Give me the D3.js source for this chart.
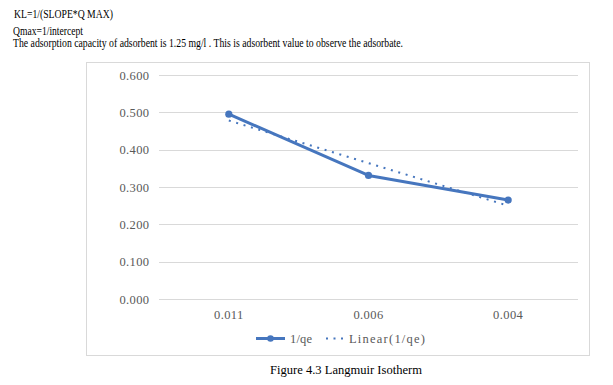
<!DOCTYPE html>
<html>
<head>
<meta charset="utf-8">
<script src="https://cdn.jsdelivr.net/npm/d3@7"></script>
<style>
  body { margin: 0; background: #fff; }
</style>
</head>
<body>
<svg id="chart" width="613" height="385" font-family="Liberation Serif, Times New Roman, serif"></svg>
<script>
// data
const categories = ['0.011', '0.006', '0.004'];
const values = [0.495, 0.331, 0.265];
const trendValues = [0.478, 0.364, 0.25]; // Excel linear trendline
const yTicks = [0, 0.1, 0.2, 0.3, 0.4, 0.5, 0.6];
const noteLines = [
  'KL=1/(SLOPE*Q MAX)',
  'Qmax=1/intercept',
  'The adsorption capacity of adsorbent is 1.25 mg/l . This is adsorbent value to observe the adsorbate.',
];
const captionText = 'Figure 4.3 Langmuir Isotherm';
const legendLabels = ['1/qe', 'Linear(1/qe)'];

const blue = '#4676be';
const gridColor = '#d9d9d9';
const labelColor = '#595959';

const svg = d3.select('#chart');

// text above the chart
const noteLayout = [
  { x: 14, y: 18, len: 99 },
  { x: 13, y: 34.5, len: 70 },
  { x: 13, y: 46.5, len: 390 },
];
svg.selectAll('.note')
  .data(noteLines)
  .enter()
  .append('text')
  .attr('class', 'note')
  .attr('x', (d, i) => noteLayout[i].x)
  .attr('y', (d, i) => noteLayout[i].y)
  .attr('textLength', (d, i) => noteLayout[i].len)
  .attr('lengthAdjust', 'spacingAndGlyphs')
  .attr('font-size', 11.5)
  .attr('fill', '#000')
  .text((d) => d);

// chart frame
svg.append('rect')
  .attr('x', 86.5)
  .attr('y', 62.5)
  .attr('width', 503)
  .attr('height', 293)
  .attr('fill', '#fff')
  .attr('stroke', gridColor)
  .attr('stroke-width', 1);

const x = d3.scaleBand().domain(categories).range([159, 578]).padding(0);
const y = d3.scaleLinear().domain([0, 0.6]).range([299, 75]);
const cx = (d) => x(d) + x.bandwidth() / 2;

// grid lines
svg.append('g')
  .selectAll('line')
  .data(yTicks)
  .enter()
  .append('line')
  .attr('x1', 159)
  .attr('x2', 578)
  .attr('y1', (d) => Math.round(y(d)) + 0.5)
  .attr('y2', (d) => Math.round(y(d)) + 0.5)
  .attr('stroke', gridColor)
  .attr('stroke-width', 1);

// y axis labels
svg.append('g')
  .selectAll('text')
  .data(yTicks)
  .enter()
  .append('text')
  .attr('x', 149.5)
  .attr('y', (d) => y(d))
  .attr('dy', '0.36em')
  .attr('text-anchor', 'end')
  .attr('font-size', 12.5)
  .attr('letter-spacing', 0.4)
  .attr('fill', labelColor)
  .text((d) => d3.format('.3f')(d));

// x axis labels
svg.append('g')
  .selectAll('text')
  .data(categories)
  .enter()
  .append('text')
  .attr('x', (d) => cx(d))
  .attr('y', 319)
  .attr('text-anchor', 'middle')
  .attr('font-size', 12.5)
  .attr('letter-spacing', 0.4)
  .attr('fill', labelColor)
  .text((d) => d);

// trendline (dotted), drawn between the first and last category
const first = categories[0];
const last = categories[categories.length - 1];
svg.append('line')
  .attr('x1', cx(first))
  .attr('y1', y(trendValues[0]))
  .attr('x2', cx(last))
  .attr('y2', y(trendValues[trendValues.length - 1]))
  .attr('stroke', blue)
  .attr('stroke-width', 2)
  .attr('stroke-dasharray', '2,5.7');

// data series
const line = d3.line()
  .x((d, i) => cx(categories[i]))
  .y((d) => y(d));

svg.append('path')
  .datum(values)
  .attr('d', line)
  .attr('fill', 'none')
  .attr('stroke', blue)
  .attr('stroke-width', 3)
  .attr('stroke-linejoin', 'round');

svg.append('g')
  .selectAll('circle')
  .data(values)
  .enter()
  .append('circle')
  .attr('cx', (d, i) => cx(categories[i]))
  .attr('cy', (d) => y(d))
  .attr('r', 3.6)
  .attr('fill', blue);

// legend
const legend = svg.append('g');
legend.append('line')
  .attr('x1', 256).attr('x2', 285)
  .attr('y1', 338.5).attr('y2', 338.5)
  .attr('stroke', blue).attr('stroke-width', 3);
legend.append('circle')
  .attr('cx', 270.5).attr('cy', 338.5).attr('r', 3.3)
  .attr('fill', blue);
legend.append('line')
  .attr('x1', 326).attr('x2', 347)
  .attr('y1', 338.5).attr('y2', 338.5)
  .attr('stroke', blue).attr('stroke-width', 2)
  .attr('stroke-dasharray', '2,5.5');
legend.selectAll('text')
  .data(legendLabels)
  .enter()
  .append('text')
  .attr('x', (d, i) => (i === 0 ? 290 : 349))
  .attr('y', 342.5)
  .attr('textLength', (d, i) => (i === 0 ? 22 : 76))
  .attr('lengthAdjust', 'spacing')
  .attr('font-size', 12.5)
  .attr('fill', labelColor)
  .text((d) => d);

// caption
svg.append('text')
  .attr('x', 270)
  .attr('y', 374)
  .attr('textLength', 152)
  .attr('lengthAdjust', 'spacingAndGlyphs')
  .attr('font-size', 12.5)
  .attr('fill', '#000')
  .text(captionText);
</script>
</body>
</html>
